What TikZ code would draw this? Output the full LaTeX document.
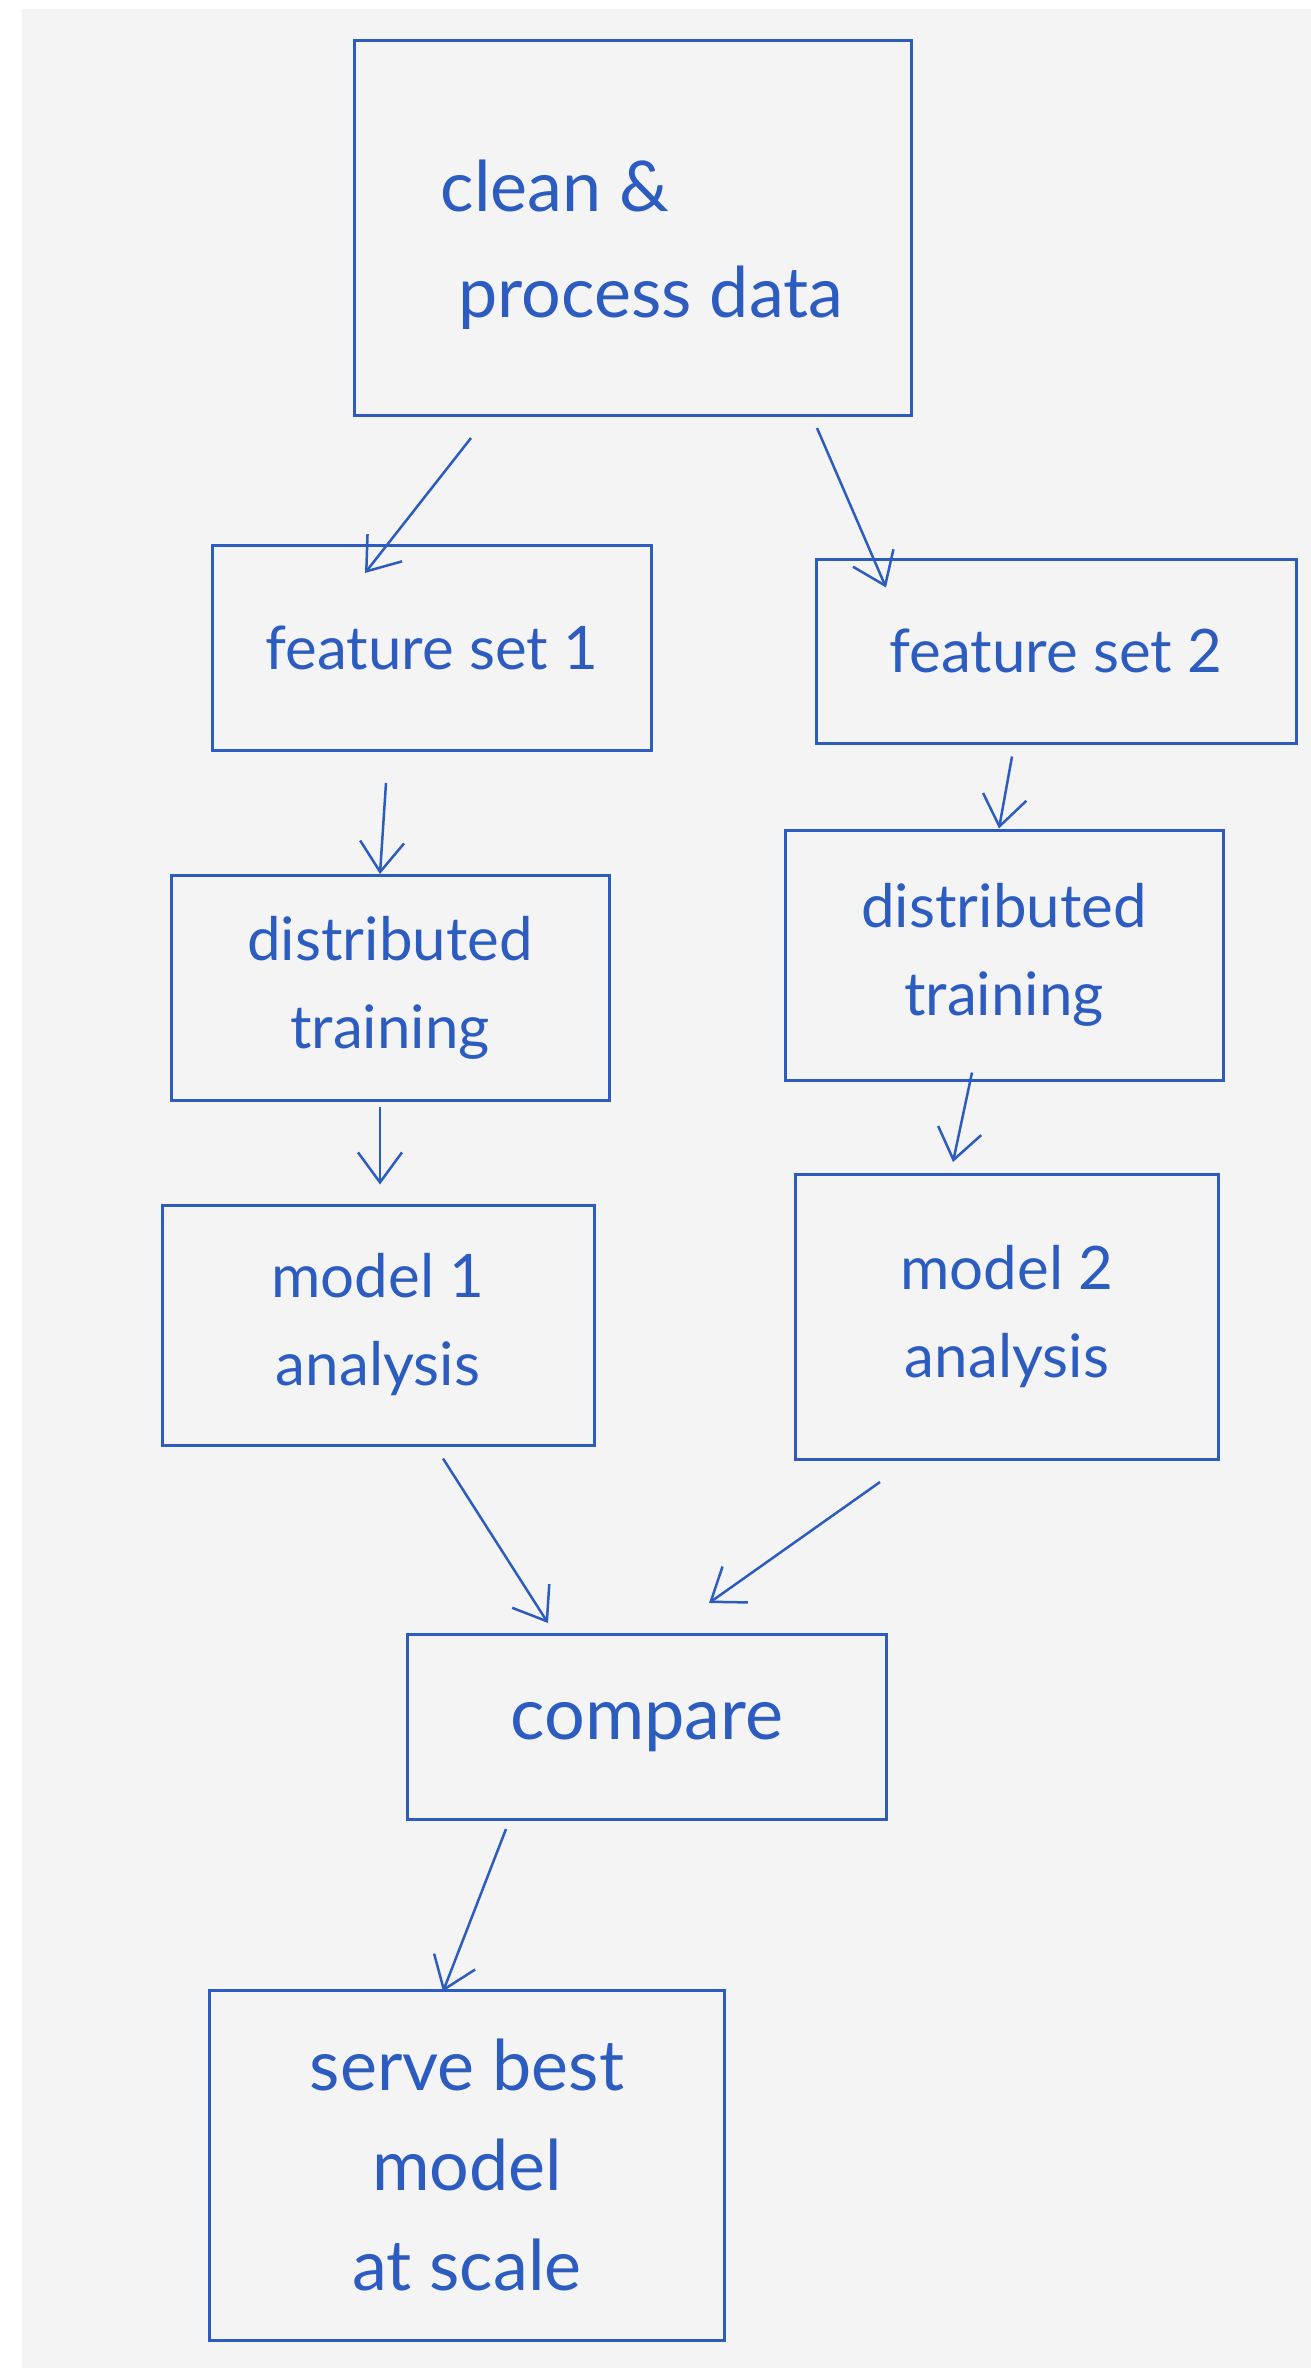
\documentclass[tikz,border=0pt]{standalone}
\usepackage{fontspec}
\setmainfont{Lato}
\usetikzlibrary{arrows.meta}
\definecolor{pen}{RGB}{45,92,192}
\definecolor{paper}{RGB}{244,244,244}
\tikzset{
    box/.style={draw=pen, line width=3pt, inner sep=0pt, align=center, text=pen,
        font=\fontsize{60}{88}\selectfont},
    arr/.style={-{Straight Barb[length=30pt,width=44pt]}, draw=pen, line width=2.5pt},
}
\begin{document}
\begin{tikzpicture}
    \useasboundingbox (0,0) rectangle (1311pt,-2368pt);
    \fill[white] (0,0) rectangle (1311pt,-2368pt);
    \fill[paper] (22pt,-9pt) rectangle (1311pt,-2368pt);

    \node[box, minimum width=557pt, minimum height=375pt, align=left,
        font=\fontsize{70}{106}\selectfont] (clean) at (633pt,-228pt) {\\[-20pt]\ clean \&\\\ \ process data};
    \node[box, minimum width=439pt, minimum height=205pt, below of=clean, node distance=420pt, xshift=-201pt] (fs1) {feature set 1};
    \node[box, minimum width=480pt, minimum height=184pt, below of=clean, node distance=423pt, xshift=423pt] (fs2) {feature set 2};
    \node[box, minimum width=438pt, minimum height=225pt, below of=fs1, node distance=340pt, xshift=-42pt] (dt1) {distributed\\training};
    \node[box, minimum width=438pt, minimum height=250pt, below of=fs2, node distance=304pt, xshift=-52pt] (dt2) {distributed\\training};
    \node[box, minimum width=432pt, minimum height=240pt, below of=dt1, node distance=337pt, xshift=-12pt] (m1) {model 1\\analysis};
    \node[box, minimum width=423pt, minimum height=285pt, below of=dt2, node distance=362pt, xshift=3pt] (m2) {model 2\\analysis};
    \node[box, minimum width=479pt, minimum height=185pt, below of=m1, node distance=402pt, xshift=269pt,
        font=\fontsize{72}{88}\selectfont] (compare) {compare};
    \node[box, minimum width=515pt, minimum height=350pt, below of=compare, node distance=438pt, xshift=-180pt,
        font=\fontsize{70}{100}\selectfont] (serve) {serve best\\model\\at scale};

    \draw[arr] ([xshift=-162pt,yshift=-21pt]clean.south) -- ([xshift=-67pt,yshift=-29pt]fs1.north);
    \draw[arr] ([xshift=184pt,yshift=-11pt]clean.south) -- ([xshift=-170pt,yshift=-30pt]fs2.north);
    \draw[arr] ([xshift=-46pt,yshift=-31pt]fs1.south) -- ([xshift=-10pt]dt1.north);
    \draw[arr] ([xshift=-44pt,yshift=-12pt]fs2.south) -- ([xshift=-5pt]dt2.north);
    \draw[arr] ([xshift=-10pt,yshift=-5pt]dt1.south) -- ([xshift=2pt,yshift=19pt]m1.north);
    \draw[arr] ([xshift=-32pt,yshift=9pt]dt2.south) -- ([xshift=-54pt,yshift=11pt]m2.north);
    \draw[arr] ([xshift=65pt,yshift=-12pt]m1.south) -- ([xshift=-99pt,yshift=10pt]compare.north);
    \draw[arr] ([xshift=-127pt,yshift=-21pt]m2.south) -- ([xshift=62pt,yshift=30pt]compare.north);
    \draw[arr] ([xshift=-141pt,yshift=-8pt]compare.south) -- ([xshift=-24pt,yshift=-3pt]serve.north);
\end{tikzpicture}
\end{document}
